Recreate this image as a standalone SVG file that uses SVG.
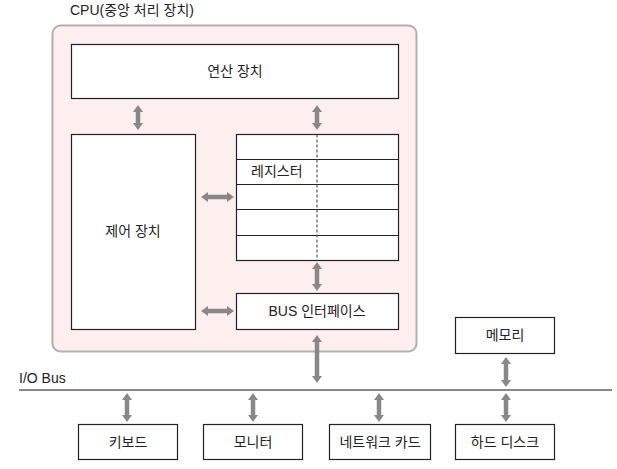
<svg xmlns="http://www.w3.org/2000/svg" width="617" height="469" viewBox="0 0 617 469">
<style>
text{font-family:"Liberation Sans","Noto Sans CJK KR",sans-serif;font-size:14px;fill:#222}
.c{text-anchor:middle}
.box{fill:#fff;stroke:#222;stroke-width:1.2}
.arr{stroke:#888;stroke-width:4.5;fill:none;marker-start:url(#ah);marker-end:url(#ah)}
</style>
<defs>
<marker id="ah" viewBox="0 0 7 10" refX="2" refY="5" markerWidth="7" markerHeight="10" markerUnits="userSpaceOnUse" orient="auto-start-reverse">
<path d="M0,0 L7,5 L0,10 Z" fill="#888"/>
</marker>
</defs>
<text x="70" y="15">CPU(중앙 처리 장치)</text>
<g id="cpu">
<rect x="52.5" y="25.5" width="364" height="326" rx="8" fill="#fcefed" stroke="#b0b0b0" stroke-width="2"/>
</g>
<g id="alu">
<rect class="box" x="71.5" y="44.5" width="327" height="54"/>
<text class="c" x="235" y="76">연산 장치</text>
</g>
<g id="control">
<rect class="box" x="71.5" y="134.5" width="124" height="195"/>
<text class="c" x="133" y="236">제어 장치</text>
</g>
<g id="register">
<rect class="box" x="236.5" y="134.5" width="162" height="126"/>
<path d="M236.5,159.5H398.5M236.5,184.5H398.5M236.5,209.5H398.5M236.5,235.5H398.5" stroke="#222" stroke-width="1.2"/>
<line x1="317" y1="134.5" x2="317" y2="260.5" stroke="#555" stroke-width="1.2" stroke-dasharray="3,2"/>
<text x="251" y="176">레지스터</text>
</g>
<g id="busif">
<rect class="box" x="236.5" y="293.5" width="162" height="36"/>
<text class="c" x="317" y="316">BUS 인터페이스</text>
</g>
<g id="memory">
<rect class="box" x="455.5" y="317.5" width="99" height="36"/>
<text class="c" x="505" y="340">메모리</text>
</g>
<g id="keyboard">
<rect class="box" x="78.5" y="424.5" width="99" height="35"/>
<text class="c" x="128" y="447">키보드</text>
</g>
<g id="monitor">
<rect class="box" x="203.5" y="424.5" width="99" height="35"/>
<text class="c" x="253" y="447">모니터</text>
</g>
<g id="nic">
<rect class="box" x="329.5" y="424.5" width="101" height="35"/>
<text class="c" x="380" y="447">네트워크 카드</text>
</g>
<g id="hdd">
<rect class="box" x="455.5" y="424.5" width="99" height="35"/>
<text class="c" x="505" y="447">하드 디스크</text>
</g>
<g id="iobus">
<line x1="19" y1="390" x2="612" y2="390" stroke="#888" stroke-width="2"/>
<text x="19" y="383" font-size="15">I/O Bus</text>
</g>
<g id="connectors">
<line class="arr" x1="138" y1="110" x2="138" y2="125"/>
<line class="arr" x1="317" y1="110" x2="317" y2="125"/>
<line class="arr" x1="206" y1="197" x2="229" y2="197"/>
<line class="arr" x1="206" y1="311" x2="229" y2="311"/>
<line class="arr" x1="317" y1="267" x2="317" y2="286"/>
<line class="arr" x1="317" y1="340" x2="317" y2="378"/>
<line class="arr" x1="506" y1="362" x2="506" y2="382"/>
<line class="arr" x1="127" y1="398" x2="127" y2="417"/>
<line class="arr" x1="253" y1="398" x2="253" y2="417"/>
<line class="arr" x1="379" y1="398" x2="379" y2="417"/>
<line class="arr" x1="506" y1="398" x2="506" y2="417"/>
</g>
</svg>
